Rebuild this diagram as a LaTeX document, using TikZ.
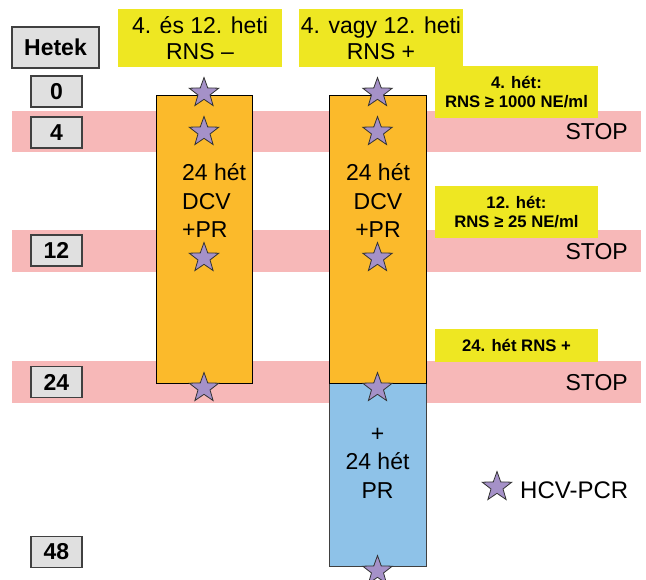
\documentclass[tikz,border=0pt]{standalone}
\usepackage{fontspec}
\setmainfont{Liberation Sans}
\usetikzlibrary{shapes.geometric}
\definecolor{bandpink}{HTML}{F7B8B8}
\definecolor{boxorange}{HTML}{FBBA2B}
\definecolor{boxblue}{HTML}{8EC2E8}
\definecolor{boxyellow}{HTML}{EEE722}
\definecolor{boxgray}{HTML}{E0E0E0}
\definecolor{edgegray}{HTML}{404040}
\definecolor{starfill}{HTML}{A591C8}
\tikzset{
  numbox/.style={draw=edgegray, line width=1.2pt, fill=boxgray, minimum width=51pt, minimum height=31pt, inner sep=0pt, font=\fontsize{23}{26}\selectfont\bfseries},
  bigyellow/.style={fill=boxyellow, minimum width=164pt, minimum height=58pt, inner sep=0pt, align=center, font=\fontsize{23}{26}\selectfont},
  smallyellow/.style={fill=boxyellow, minimum width=163pt, inner sep=0pt, align=center, font=\fontsize{16.7}{19.5}\selectfont\bfseries},
  coltext/.style={inner sep=0pt, font=\fontsize{23}{26}\selectfont},
  stoptext/.style={inner sep=0pt, anchor=east, font=\fontsize{23}{26}\selectfont},
  pcrstar/.style={star, star points=5, star point ratio=2.45, minimum size=31pt, inner sep=0pt, draw=black!80, line width=0.8pt, fill=starfill},
}
\begin{document}
\begin{tikzpicture}[x=1pt,y=-1pt]
\useasboundingbox (0,0) rectangle (646,580);
% bands
\fill[bandpink] (12,111) rectangle (641,152);
\fill[bandpink] (12,230) rectangle (641,272);
\fill[bandpink] (12,361) rectangle (641,403);
% treatment columns
\draw[fill=boxorange, line width=0.8pt] (156,95) rectangle (252,383);
\draw[fill=boxblue, draw=edgegray, line width=0.8pt] (329,383) rectangle (426,566);
\draw[fill=boxorange, line width=0.8pt] (329,95) rectangle (426,383);
% week boxes
\node[numbox, minimum width=87pt, minimum height=41pt] (hetek) at (55.5,47.5) {Hetek};
\node[numbox] (w0) at (56.5,91.5) {0};
\node[numbox] (w4) at (56.5,132.5) {4};
\node[numbox] (w12) at (56.5,250.5) {12};
\node[numbox] (w24) at (56.5,382) {24};
\node[numbox] (w48) at (56.5,552) {48};
% yellow headers
\node[bigyellow] (hneg) at (200,38) {4. és 12. heti\\RNS –};
\node[bigyellow] (hpos) at (381,38) {4. vagy 12. heti\\RNS +};
\node[smallyellow, minimum height=52pt] (c4) at (516.5,92) {4. hét:\\RNS ≥ 1000 NE/ml};
\node[smallyellow, minimum height=52pt] (c12) at (516.5,212) {12. hét:\\RNS ≥ 25 NE/ml};
\node[smallyellow, minimum height=33pt] (c24) at (516.5,345.5) {24. hét RNS +};
% column texts
\node[coltext, anchor=base west] (la) at (182,181) {24 hét};
\node[coltext, anchor=base west] (lb) at (182,209.5) {DCV};
\node[coltext, anchor=base west] (lc) at (182,238) {+PR};
\node[coltext, anchor=base] (ra) at (378,181) {24 hét};
\node[coltext, anchor=base] (rb) at (378,209.5) {DCV};
\node[coltext, anchor=base] (rc) at (378,238) {+PR};
\node[coltext, anchor=base] (ba) at (377.5,441) {+};
\node[coltext, anchor=base] (bb) at (377.5,469.5) {24 hét};
\node[coltext, anchor=base] (bc) at (377.5,498) {PR};
% STOP
\node[stoptext] (stop1) at (628,132) {STOP};
\node[stoptext] (stop2) at (628,251.5) {STOP};
\node[stoptext] (stop3) at (628,382.5) {STOP};
% stars
\node[pcrstar] (sl0) at (204,93) {};
\node[pcrstar] (sl4) at (204,132) {};
\node[pcrstar] (sl12) at (204,258) {};
\node[pcrstar] (sl24) at (204,388) {};
\node[pcrstar] (sr0) at (377.5,93) {};
\node[pcrstar] (sr4) at (377.5,132) {};
\node[pcrstar] (sr12) at (377.5,258) {};
\node[pcrstar] (sr24) at (377.5,388) {};
\node[pcrstar] (sr48) at (377.5,571) {};
% legend
\node[pcrstar] (legstar) at (497,487) {};
\node[inner sep=0pt, anchor=west, font=\fontsize{24}{27}\selectfont] (legtext) at (520,490) {HCV-PCR};
\end{tikzpicture}
\end{document}
